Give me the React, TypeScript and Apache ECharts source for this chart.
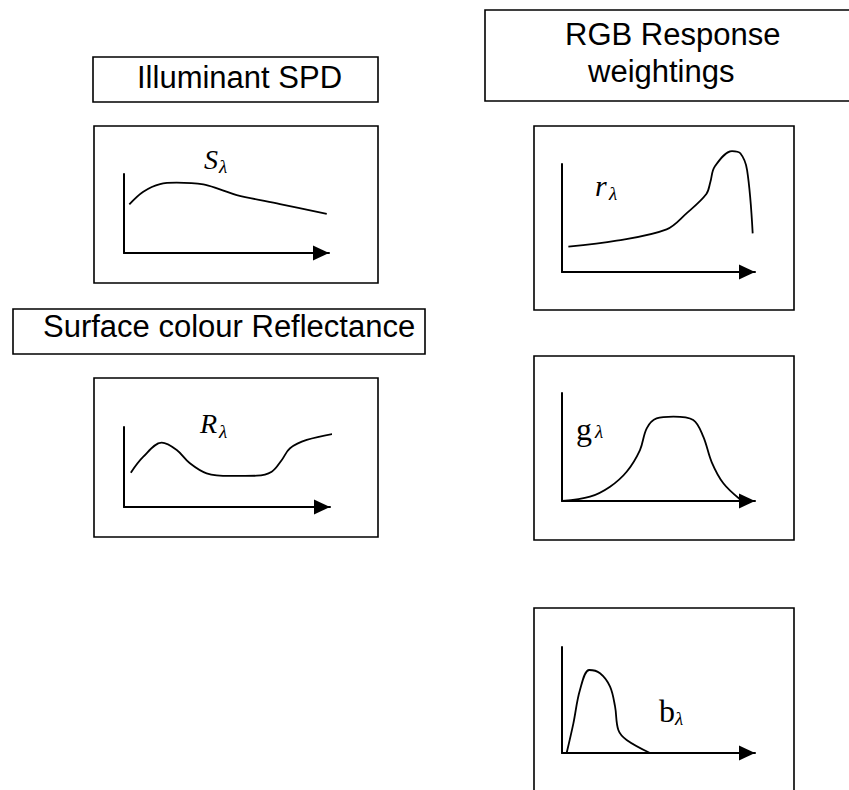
import React, { useEffect, useRef } from "react";
import * as echarts from "echarts";

// ---- Data (arbitrary units: x 0..100 = axis origin..arrow tip, y 0..100 = axis origin..axis top)
const sLambdaX = [2.6, 9.4, 17.6, 25.7, 38.7, 46.8, 55.0, 76.1, 98.9];
const sLambdaY = [61.6, 77.6, 87.3, 89.0, 87.0, 80.6, 73.4, 62.0, 49.4];

const rReflX = [3.3, 9.4, 18.3, 25.6, 32.0, 40.1, 51.5, 64.4, 71.7, 76.6, 80.6, 88.7, 104.9];
const rReflY = [42.9, 62.9, 80.4, 71.3, 54.6, 42.1, 38.8, 39.1, 44.1, 58.8, 73.4, 83.8, 92.9];

const redX = [3.3, 28.3, 54.2, 64.5, 74.8, 76.9, 79.1, 88.1, 92.4, 95.9, 98.8];
const redY = [23.4, 29.0, 39.5, 54.3, 72.2, 83.6, 97.5, 112.0, 109.9, 94.4, 35.8];

const greenX = [0.2, 14.5, 24.9, 33.5, 40.4, 43.9, 49.0, 57.7, 68.0, 73.2, 77.6, 83.6, 92.2];
const greenY = [0, 4.0, 13.3, 27.1, 47.2, 67.3, 76.5, 78.1, 75.0, 59.6, 35.8, 16.4, 1.6];

const blueX = [2.4, 5.9, 9.3, 14.1, 19.7, 24.9, 27.5, 29.2, 33.5, 45.6];
const blueY = [0, 28.0, 59.4, 78.3, 75.2, 62.6, 43.7, 21.7, 12.3, 0];

const titles = ["Illuminant SPD", "Surface colour Reflectance", "RGB Response", "weightings"];
const symbols = ["S", "R", "r", "g", "b"];
const subscript = "λ";

const zip = (xs: number[], ys: number[]) => xs.map((x, i) => [x, ys[i]]);

const SANS = '"Liberation Sans", Arial, sans-serif';
const SERIF = '"Liberation Serif", "Times New Roman", serif';

export default function App() {
  const ref = useRef<HTMLDivElement>(null);
  useEffect(() => {
    if (!ref.current) return;
    const chart = echarts.init(ref.current, undefined, { renderer: "svg" });

    const panels = [
      { grid: { left: 124, top: 174, width: 205, height: 79 }, data: zip(sLambdaX, sLambdaY) },
      { grid: { left: 124, top: 427, width: 206, height: 80 }, data: zip(rReflX, rReflY) },
      { grid: { left: 562, top: 164, width: 193, height: 108 }, data: zip(redX, redY) },
      { grid: { left: 562, top: 393, width: 193, height: 108 }, data: zip(greenX, greenY) },
      { grid: { left: 562, top: 647, width: 193, height: 106 }, data: zip(blueX, blueY) },
    ];

    const axisLine = (arrow: boolean) => ({
      show: true,
      onZero: false,
      lineStyle: { color: "#000", width: 2 },
      symbol: arrow ? ["none", "triangle"] : ["none", "none"],
      symbolSize: [15, 16],
      symbolOffset: [0, -8],
    });

    const boxes = [
      [93, 57, 285, 45],
      [94, 126, 284, 157],
      [13, 309, 412, 45],
      [94, 378, 284, 159],
      [485, 10, 370, 91],
      [534, 126, 260, 184],
      [534, 356, 260, 184],
      [534, 608, 260, 190],
    ];

    const rects = boxes.map(([x, y, w, h]) => ({
      type: "rect",
      shape: { x, y, width: w, height: h },
      style: { fill: "none", stroke: "#000", lineWidth: 1.6 },
      silent: true,
    }));

    const txt = (text: string, x: number, y: number, font: string) => ({
      type: "text",
      x,
      y,
      style: { text, font, fill: "#000", align: "left", verticalAlign: "middle" },
      silent: true,
    });

    const texts = [
      txt(titles[0], 137, 77, `31px ${SANS}`),
      txt(titles[1], 43, 326, `31px ${SANS}`),
      txt(titles[2], 565, 34, `31px ${SANS}`),
      txt(titles[3], 588, 71, `31px ${SANS}`),
      txt(symbols[0], 204, 159, `italic 28px ${SERIF}`),
      txt(subscript, 219, 166, `italic 19px ${SERIF}`),
      txt(symbols[1], 200, 423, `italic 28px ${SERIF}`),
      txt(subscript, 219, 431, `italic 19px ${SERIF}`),
      txt(symbols[2], 595, 185, `italic 30px ${SERIF}`),
      txt(subscript, 609, 193, `italic 19px ${SERIF}`),
      txt(symbols[3], 576, 429, `32px ${SERIF}`),
      txt(subscript, 595, 431, `italic 19px ${SERIF}`),
      txt(symbols[4], 659, 711, `32px ${SERIF}`),
      txt(subscript, 675, 718, `italic 19px ${SERIF}`),
    ];

    chart.setOption({
      animation: false,
      backgroundColor: "#fff",
      grid: panels.map((p) => ({ ...p.grid, containLabel: false })),
      xAxis: panels.map((_, i) => ({
        type: "value",
        gridIndex: i,
        min: 0,
        max: 100,
        axisLine: axisLine(true),
        axisTick: { show: false },
        axisLabel: { show: false },
        splitLine: { show: false },
      })),
      yAxis: panels.map((_, i) => ({
        type: "value",
        gridIndex: i,
        min: 0,
        max: 100,
        axisLine: axisLine(false),
        axisTick: { show: false },
        axisLabel: { show: false },
        splitLine: { show: false },
      })),
      series: panels.map((p, i) => ({
        type: "line",
        xAxisIndex: i,
        yAxisIndex: i,
        data: p.data,
        smooth: 0.35,
        symbol: "none",
        clip: false,
        lineStyle: { color: "#000", width: 1.8 },
        z: 3,
      })),
      graphic: [...rects, ...texts],
    });

    return () => chart.dispose();
  }, []);

  return (
    <div
      ref={ref}
      style={{ position: "fixed", left: 0, top: 0, width: 849, height: 790 }}
    />
  );
}
